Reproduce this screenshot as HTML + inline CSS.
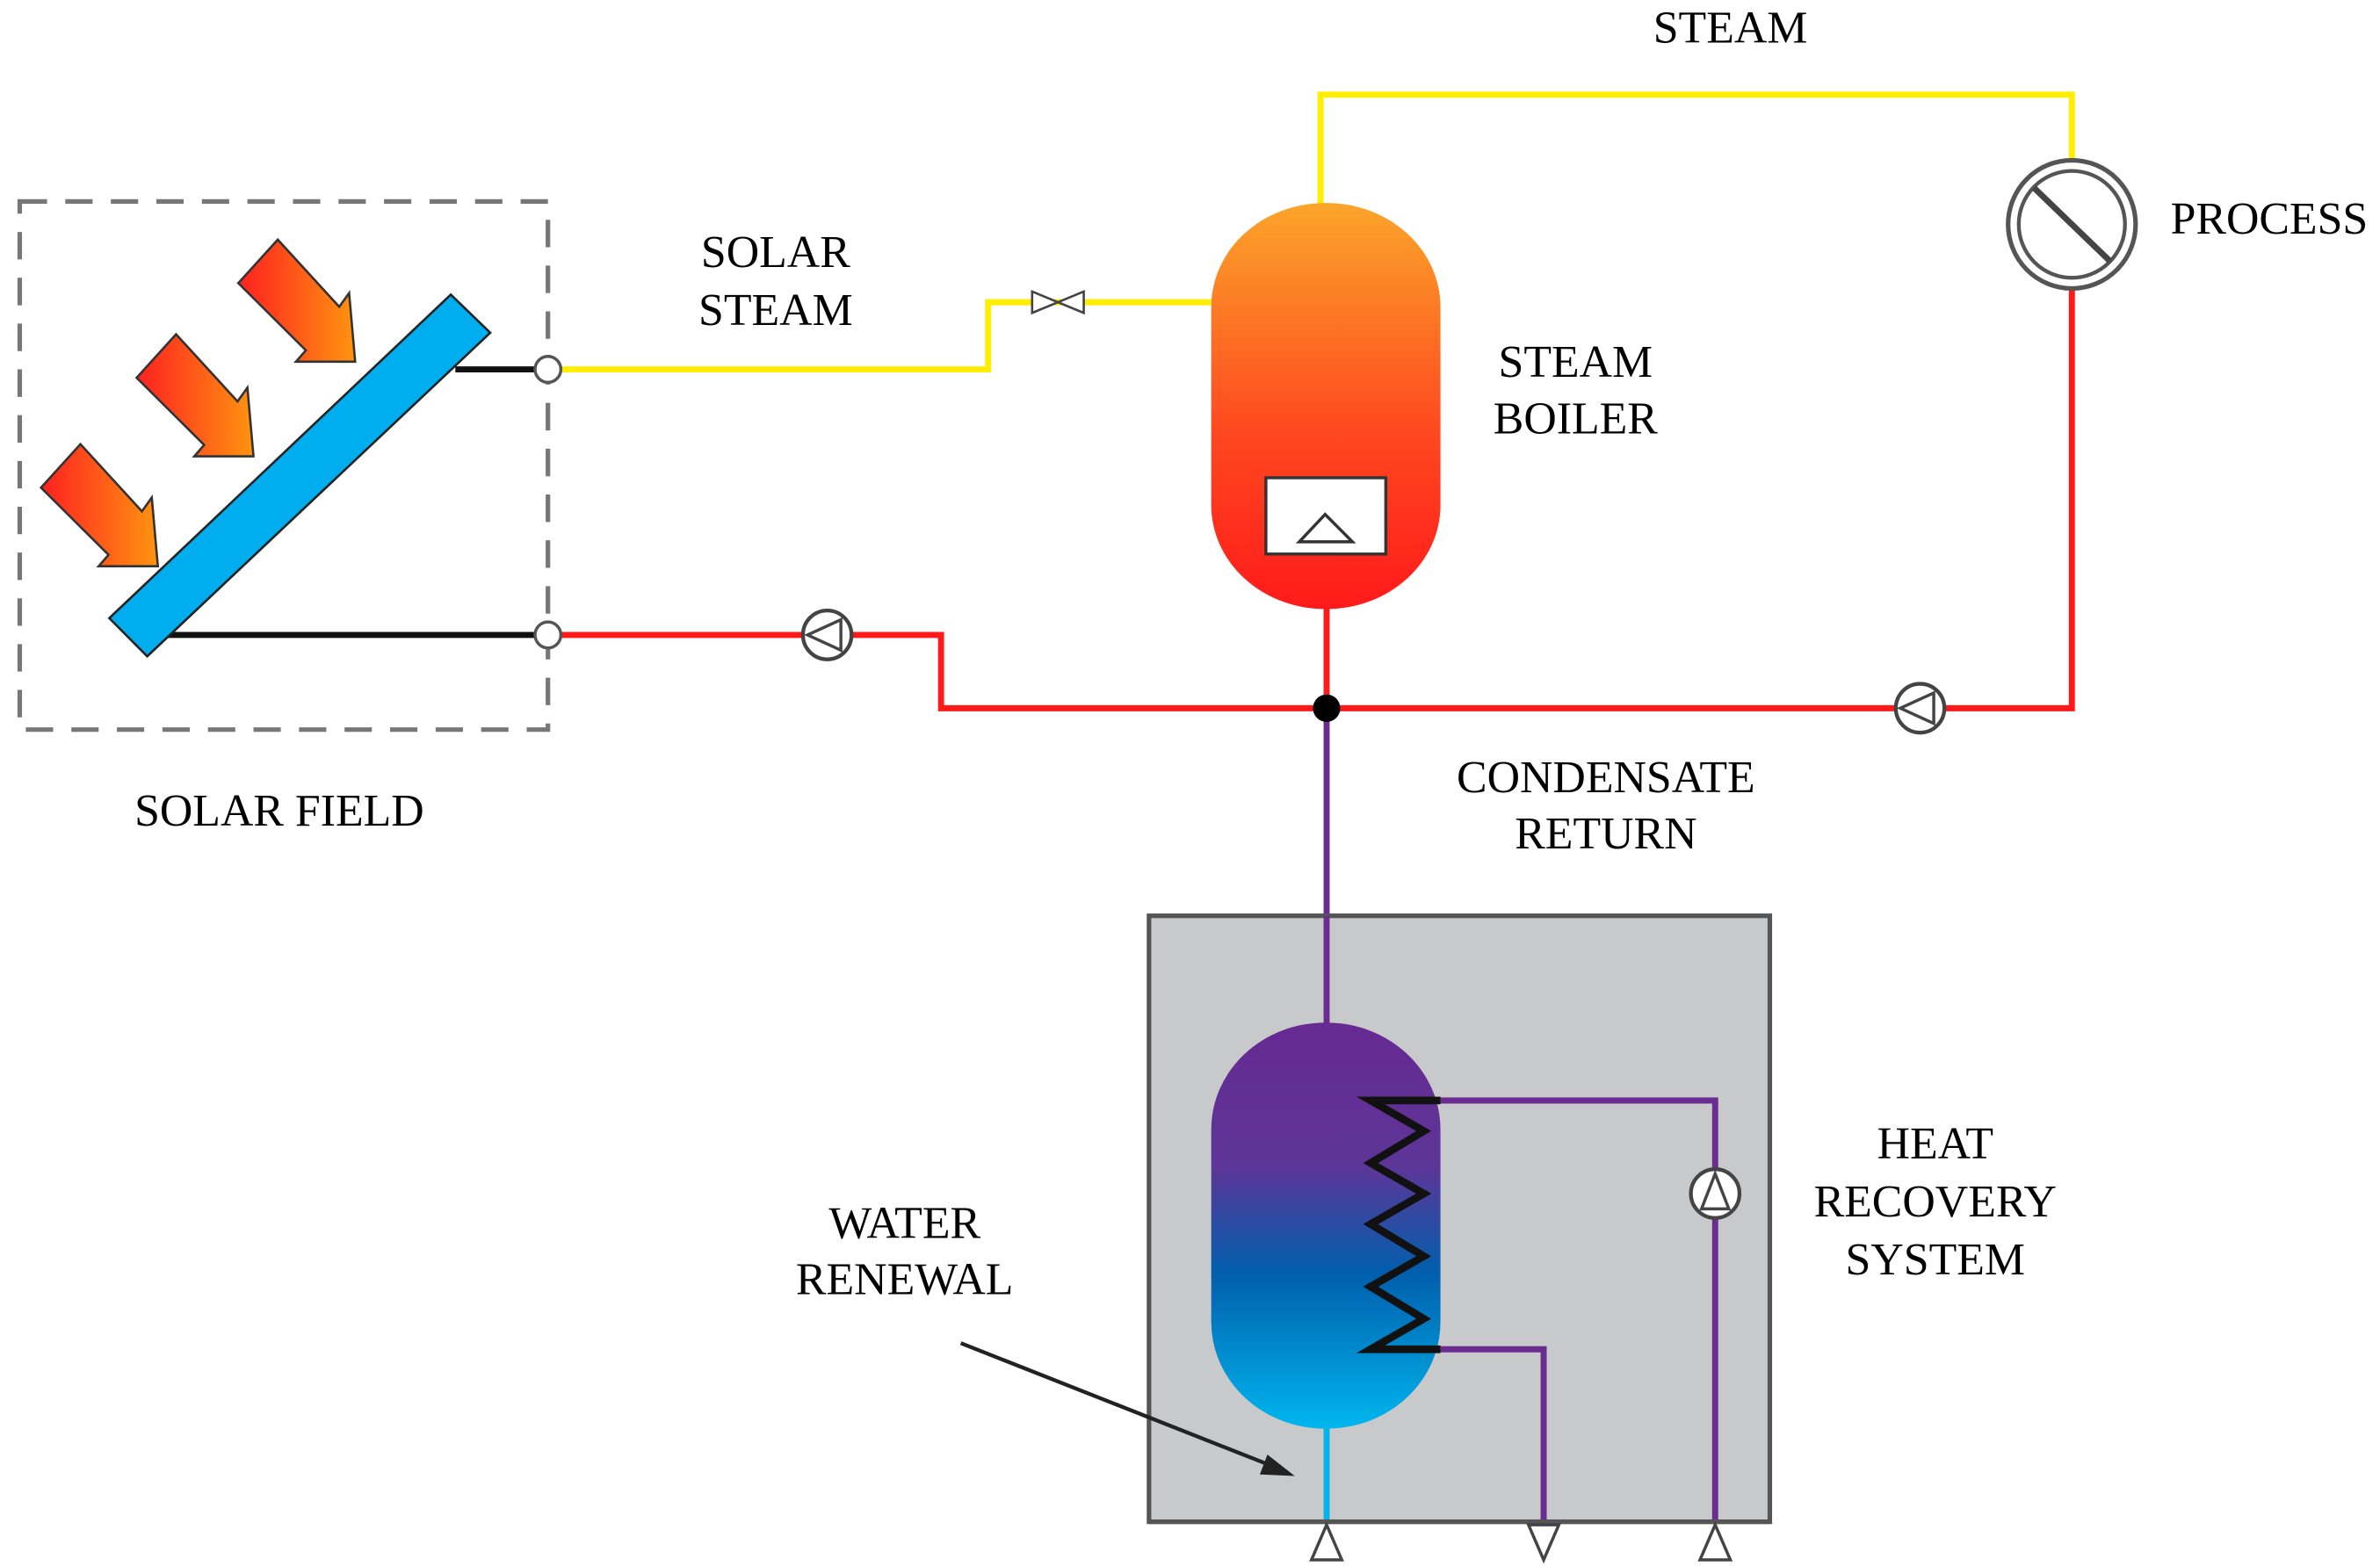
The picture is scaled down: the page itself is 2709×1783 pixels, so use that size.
<!DOCTYPE html>
<html><head><meta charset="utf-8">
<style>
html,body{margin:0;padding:0;background:#fff;}
svg{display:block;}
text{font-family:"Liberation Serif",serif;font-size:30px;fill:#000;text-anchor:middle;}
</style></head>
<body>
<svg width="2709" height="1783" viewBox="0 0 1568 1026" preserveAspectRatio="none" xmlns="http://www.w3.org/2000/svg">
<defs>
<linearGradient id="arr" x1="0" y1="0" x2="1" y2="0">
<stop offset="0" stop-color="#ff2020"/><stop offset="1" stop-color="#ff9410"/>
</linearGradient>
<linearGradient id="boil" x1="0" y1="0" x2="0" y2="1">
<stop offset="0" stop-color="#fba52a"/><stop offset="0.55" stop-color="#ff4a20"/><stop offset="1" stop-color="#ff1a1a"/>
</linearGradient>
<linearGradient id="tank" x1="0" y1="0" x2="0" y2="1">
<stop offset="0" stop-color="#662a92"/><stop offset="0.35" stop-color="#5e3598"/><stop offset="0.62" stop-color="#005fad"/><stop offset="1" stop-color="#00b6ee"/>
</linearGradient>
<g id="arrow">
<polygon points="157,185.5 183,157 223.5,201 230,192 234,237 195,237 201.5,229.5" fill="url(#arr)" stroke="#333" stroke-width="1.5"/>
</g>
<g id="pumpL">
<circle r="16" fill="#fff" stroke="#444" stroke-width="2.5"/>
<polygon points="-13,0 9,-10 9,10" fill="#fff" stroke="#444" stroke-width="2"/>
</g>
<g id="pumpU">
<circle r="16" fill="#fff" stroke="#444" stroke-width="2.5"/>
<polygon points="0,-13 -9,10 9,10" fill="#fff" stroke="#444" stroke-width="2"/>
</g>
</defs>

<rect x="13" y="132" width="348" height="346" fill="none" stroke="#777" stroke-width="3" stroke-dasharray="18,12"/>
<line x1="300" y1="242" x2="361" y2="242" stroke="#111" stroke-width="4"/>
<line x1="105" y1="416" x2="361" y2="416" stroke="#111" stroke-width="4"/>
<polygon points="72,405 297,193 323,218 97,430" fill="#00aeef" stroke="#222" stroke-width="1.5"/>
<use href="#arrow"/>
<use href="#arrow" transform="translate(-67,62)"/>
<use href="#arrow" transform="translate(-130,134)"/>

<polyline points="369,242 651,242 651,198 798,198" fill="none" stroke="#ffee00" stroke-width="4"/>
<polyline points="870,134 870,62 1365,62 1365,106" fill="none" stroke="#ffee00" stroke-width="4"/>
<polygon points="680,191 680,205 714,191 714,205" fill="#fff" stroke="#444" stroke-width="1.5"/>

<polyline points="369,416 620,416 620,464 874,464" fill="none" stroke="#ff1a1a" stroke-width="4"/>
<polyline points="1365,189 1365,464 874,464" fill="none" stroke="#ff1a1a" stroke-width="4"/>
<line x1="874" y1="396" x2="874" y2="464" stroke="#ff1a1a" stroke-width="4"/>

<circle cx="361" cy="242" r="8.5" fill="#fff" stroke="#555" stroke-width="2"/>
<circle cx="361" cy="416" r="8.5" fill="#fff" stroke="#555" stroke-width="2"/>
<use href="#pumpL" x="545" y="416"/>
<use href="#pumpL" x="1265" y="464"/>

<rect x="798" y="133" width="151" height="266" rx="75" ry="68" fill="url(#boil)"/>
<rect x="834" y="313" width="79" height="50" fill="#fff" stroke="#333" stroke-width="2"/>
<polygon points="873,337 856,355 891,355" fill="#fff" stroke="#333" stroke-width="2"/>

<circle cx="1365" cy="147" r="42" fill="#fff" stroke="#555" stroke-width="3"/>
<circle cx="1365" cy="147" r="35" fill="#fff" stroke="#555" stroke-width="2.5"/>
<line x1="1340" y1="123" x2="1390" y2="171" stroke="#444" stroke-width="4"/>

<line x1="874" y1="464" x2="874" y2="672" stroke="#6a2c91" stroke-width="4"/>
<circle cx="874" cy="464" r="9" fill="#000"/>

<rect x="757" y="600" width="409" height="397" fill="#c8c9cb" stroke="#555" stroke-width="3"/>
<line x1="874" y1="600" x2="874" y2="672" stroke="#6a2c91" stroke-width="4"/>
<rect x="798" y="670" width="151" height="266" rx="75" ry="70" fill="url(#tank)"/>
<polyline points="949,721 1130,721 1130,997" fill="none" stroke="#6a2c91" stroke-width="4"/>
<polyline points="949,884 1017,884 1017,997" fill="none" stroke="#6a2c91" stroke-width="4"/>
<line x1="874" y1="936" x2="874" y2="997" stroke="#00b4ec" stroke-width="4"/>
<polyline points="949,721 903,721 938,741 903,762 938,782 903,802 938,823 903,843 938,864 903,884 949,884" fill="none" stroke="#111" stroke-width="5" stroke-linejoin="miter"/>
<use href="#pumpU" x="1130" y="782"/>
<line x1="757" y1="997" x2="1166" y2="997" stroke="#555" stroke-width="3"/>
<polygon points="874,999 864,1022 884,1022" fill="#fff" stroke="#444" stroke-width="2"/>
<polygon points="1017,1022 1007,999 1027,999" fill="#fff" stroke="#444" stroke-width="2"/>
<polygon points="1130,999 1120,1022 1140,1022" fill="#fff" stroke="#444" stroke-width="2"/>

<line x1="633" y1="880" x2="842" y2="962" stroke="#222" stroke-width="2.5"/>
<polygon points="853,967 835,953 830,966" fill="#222"/>

<text x="1140" y="28">STEAM</text>
<text x="511" y="175">SOLAR</text>
<text x="511" y="213">STEAM</text>
<text x="1038" y="247">STEAM</text>
<text x="1038" y="284">BOILER</text>
<text x="1430" y="153" style="text-anchor:start">PROCESS</text>
<text x="184" y="541">SOLAR FIELD</text>
<text x="1058" y="519">CONDENSATE</text>
<text x="1058" y="556">RETURN</text>
<text x="1275" y="759">HEAT</text>
<text x="1275" y="797">RECOVERY</text>
<text x="1275" y="835">SYSTEM</text>
<text x="596" y="811">WATER</text>
<text x="596" y="848">RENEWAL</text>
</svg>
</body></html>
